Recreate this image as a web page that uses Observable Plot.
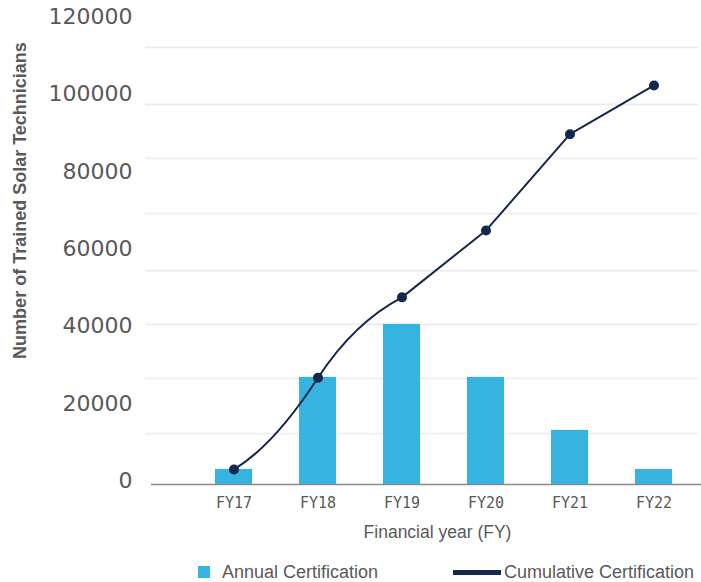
<!DOCTYPE html>
<html>
<head>
<meta charset="utf-8">
<script src="https://cdn.jsdelivr.net/npm/d3@7"></script>
<script src="https://cdn.jsdelivr.net/npm/@observablehq/plot@0.6"></script>
<style>
  html, body { margin: 0; padding: 0; background: #ffffff; }
  #chart svg { display: block; }
  #legend { position: relative; width: 701px; height: 30px; font-family: "Liberation Sans", Arial, sans-serif; font-size: 18px; color: #595959; }
  #legend span { position: absolute; white-space: nowrap; line-height: 18px; }
</style>
</head>
<body>
<div id="chart"></div>
<div id="legend"></div>
<script>
// ---- Data ----
const years = ["FY17", "FY18", "FY19", "FY20", "FY21", "FY22"];
const annualCertification = [3900, 27700, 41400, 27700, 14000, 3900];
const cumulativeCertification = [3900, 27600, 48400, 65700, 90600, 103200];
const yTickValues = [0, 20000, 40000, 60000, 80000, 100000, 120000];
const gridValues = [13200, 27400, 41400, 55300, 70100, 84300, 98300, 113000];
const seriesNames = ["Annual Certification", "Cumulative Certification"];
const xTitle = "Financial year (FY)";
const yTitle = "Number of Trained Solar Technicians";

const barColor = "#36b3de";
const lineColor = "#14284b";
const textColor = "#595959";

const data = years.map((year, i) => ({
  year,
  annual: annualCertification[i],
  cumulative: cumulativeCertification[i]
}));
// the reference smooths the first part of the cumulative line (an S-shaped bend) and draws the rest straight
const smoothPart = data.slice(0, 3);
const straightPart = data.slice(2);

// Hermite-style smoothing curve: gentle tangents at the ends, steeper ones inside
function sCurve(context) {
  let xs = [], ys = [];
  const endFactor = 0.55, midFactor = 1.5;
  return {
    areaStart() {}, areaEnd() {},
    lineStart() { xs = []; ys = []; },
    point(x, y) { xs.push(+x); ys.push(+y); },
    lineEnd() {
      const n = xs.length;
      if (!n) return;
      context.moveTo(xs[0], ys[0]);
      if (n < 3) { for (let i = 1; i < n; i++) context.lineTo(xs[i], ys[i]); return; }
      const m = xs.map((x, i) => {
        if (i === 0) return endFactor * (ys[1] - ys[0]) / (xs[1] - xs[0]);
        if (i === n - 1) return endFactor * (ys[n - 1] - ys[n - 2]) / (xs[n - 1] - xs[n - 2]);
        return midFactor * (ys[i + 1] - ys[i - 1]) / (xs[i + 1] - xs[i - 1]);
      });
      for (let i = 0; i < n - 1; i++) {
        const h = (xs[i + 1] - xs[i]) / 3;
        context.bezierCurveTo(xs[i] + h, ys[i] + m[i] * h, xs[i + 1] - h, ys[i + 1] - m[i + 1] * h, xs[i + 1], ys[i + 1]);
      }
    }
  };
}

const chart = Plot.plot({
  width: 701,
  height: 552,
  marginLeft: 151,
  marginRight: 0,
  marginTop: 20,
  marginBottom: 68,
  style: { background: "#ffffff", color: textColor, fontFamily: "Liberation Sans, Arial, sans-serif" },
  x: { domain: years, paddingInner: 0.56, paddingOuter: 0.546, align: 0.685 },
  y: { domain: [0, 120000] },
  marks: [
    Plot.ruleY(gridValues, { stroke: "#ebebeb", strokeWidth: 1.6, insetLeft: -6, insetRight: 3 }),
    Plot.barY(data, { x: "year", y: "annual", fill: barColor }),
    Plot.ruleY([0], { stroke: "#8a8a8a", strokeWidth: 1.5 }),
    Plot.line(smoothPart, { x: "year", y: "cumulative", stroke: lineColor, strokeWidth: 2, curve: sCurve }),
    Plot.line(straightPart, { x: "year", y: "cumulative", stroke: lineColor, strokeWidth: 2, curve: "linear" }),
    Plot.dot(data, { x: "year", y: "cumulative", r: 5, fill: lineColor, stroke: "none" }),
    Plot.axisY(yTickValues, {
      tickSize: 0, tickPadding: 19, dy: -3.5,
      tickFormat: d => String(d),
      fontSize: 22, fontFamily: "DejaVu Sans", fill: textColor, label: null
    }),
    Plot.axisX({
      tickSize: 0, tickPadding: 13,
      fontSize: 15, fontFamily: "DejaVu Sans Mono", fill: textColor, label: null
    }),
    Plot.text([xTitle], {
      frameAnchor: "bottom", dy: 53, dx: 11,
      fontSize: 17.5, fontFamily: "Liberation Sans", fill: textColor
    }),
    Plot.text([yTitle], {
      frameAnchor: "left", textAnchor: "middle", rotate: -90, dx: -131, dy: -52,
      fontSize: 18, fontWeight: "bold", fontFamily: "Liberation Sans", fill: textColor
    })
  ]
});
document.getElementById("chart").appendChild(chart);

// ---- Legend (HTML, below the SVG) ----
const legend = document.getElementById("legend");
function span(style, text) {
  const s = document.createElement("span");
  Object.assign(s.style, style);
  if (text) s.textContent = text;
  legend.appendChild(s);
}
span({ left: "198px", top: "14px", width: "12px", height: "11.5px", background: barColor });
span({ left: "222px", top: "10.5px" }, seriesNames[0]);
span({ left: "453px", top: "17.8px", width: "48px", height: "5px", background: lineColor });
span({ left: "504px", top: "10.5px" }, seriesNames[1]);
</script>
</body>
</html>
